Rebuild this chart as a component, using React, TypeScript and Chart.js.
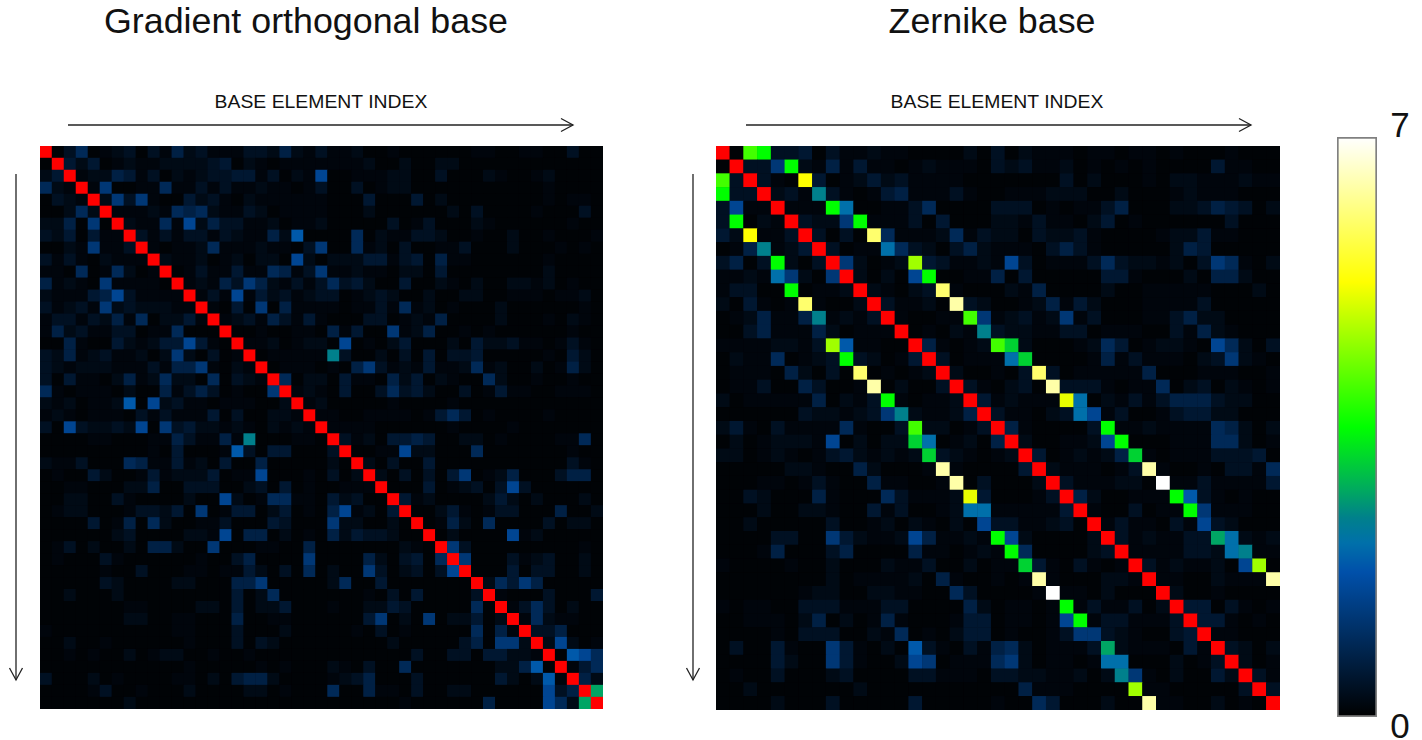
import React, { useEffect, useRef } from "react";
import { Chart, registerables } from "chart.js";

Chart.register(...registerables);

// Each character is one matrix cell; levelChars / levelValues turn it into a correlation value.
// R marks a value above the colour scale (the diagonal), drawn red.
const levelChars = "0123456789abcdefghijklR";
const levelValues = [0.06, 0.12, 0.22, 0.35, 0.5, 0.7, 0.9, 1.2, 1.5, 1.85, 2.1, 2.4, 2.7, 3.1, 3.5, 3.95, 4.6, 5.1, 5.25, 6.0, 6.4, 7, 9];

const gradientRows = [
  "R036012303 1523111332 5213112001 0000001100 1100300",
  "0R42401211 2222340210 1111111200 2002200000 0000000",
  "24R1225413 0212334413 0218001112 2003000210 0120000",
  "621R170011 6113131121 1013003012 2000000000 0010000",
  "0321R27371 0042310211 1111000400 0402000000 0010110",
  "00262R1112 1656211320 1111000200 0000203000 0100030",
  "225070R211 6182533112 0112000003 0130002100 0000100",
  "3240411R31 3133132115 2900006021 1332001002 0010001",
  "00217113R1 0112611121 1037006120 3001130002 0001010",
  "313102111R 2112012022 0820222441 3405110000 0010000",
  "1106016201 R013114116 5137112110 2204000000 0020000",
  "5121071111 0R12153752 1313634200 4002102002 2120100",
  "2111458311 11R1318142 3123301232 0020022001 1101120",
  "3123172322 211R104070 5111101131 6120100020 0000010",
  "1331325160 2241R12315 3141000330 1215000020 0010210",
  "1523113301 16000R0010 0110514007 1250010100 0000100",
  "0051004212 448410R112 0122080102 4000204223 1101310",
  "3251231120 2720301R01 1111b30020 3040334000 0010420",
  "3212221113 15571021R0 1110105731 2141126120 0201520",
  "3041102512 622060321R 6022041105 2402100620 0100100",
  "6101110200 5135301007 R121040036 3420030141 1001110",
  "2120112908 2311011100 2R12000001 0000100000 0000000",
  "1210111031 3111403002 21R1100111 1014640100 0010000",
  "3083223280 7342212102 121R111100 0000100001 0000000",
  "0000110001 1531151b00 0110R31204 4540022010 0001160",
  "0000000001 0400019304 40003R0011 8220006000 0000100",
  "2113000651 1412040050 000020R203 0040000000 0000310",
  "0100420014 1222401180 0010302R20 3030470125 0003550",
  "0011000225 0033300230 40100111R0 0040123038 3000000",
  "0022003100 0020082016 611042300R 4120000242 0200020",
  "0122000133 2407014402 4010581204 R002410133 0005002",
  "0000401506 2001130004 3000722002 0R01520600 0030220",
  "0000002300 0022180550 2010524332 00R0200008 1200000",
  "0130200205 5200700011 0050000000 210R730000 0000010",
  "0100031000 0001003500 0070000520 3406R70003 1230020",
  "0000010030 0011011420 3060200730 23038R0004 0330020",
  "0000032000 0220005570 0000260040 000000R264 7500000",
  "0020002000 0000004026 0000000103 0400003R10 0030004",
  "0000000110 0002204022 4000100224 30000060R1 3630200",
  "0000000220 0110005001 1000000470 207022402R 1621100",
  "1000000000 0110003000 2000001030 1000006051 R335000",
  "0020010000 0010003032 0000000002 0000035077 2R28201",
  "0010100201 2200100100 0000000000 0300330442 21R0986",
  "0000000000 0010000010 1000210300 6000000022 590R146",
  "3000201000 0110204552 0000123500 0300000042 0291R52",
  "0000130010 0020000220 1000600511 0300220000 00835Rc",
  "0000000200 0000000000 0000000000 1000000500 00862cR",
];

const zernikeRows = [
  "R0fe334031 1211000020 3021110110 1101000100 0",
  "0R337e2151 4110121110 3231120101 0100004110 0",
  "f3R310i401 2423111100 0000030200 0102211121 1",
  "e33R231b31 0145111310 0111222002 0001211100 0",
  "3811R111ea 0011360000 3330101135 0002235430 2",
  "3e021R3227 e111304000 2213110240 1000000300 0",
  "42i113R303 0j61112613 2203223100 0012241100 0",
  "015b124R30 11a6320352 1110353100 0002540000 0",
  "3503e203R7 2012g43112 1830111363 2212037610 2",
  "1121a7207R 20208e0011 5040000044 1000205520 0",
  "13300e0112 R21023j100 0215000020 0111110002 0",
  "204101j100 2R31120k32 0012514200 0111130000 0",
  "0125115b12 13R10011f7 1231271300 0113522000 0",
  "0035111520 111R01021b 3221133011 1003152100 0",
  "11112213g9 1100R51012 fd20001264 0122108620 3",
  "021160123e 32014R3011 1ad0000151 3111023721 0",
  "0111052030 j01012R200 103j301111 1500011100 1",
  "0113005300 1k02003R31 0230k33310 1160230210 1",
  "2011111502 13e10112R4 12111ha021 3135553220 0",
  "0000003221 237b21125R 311023a813 0013442200 0",
  "2410311116 1003f22013 R5100003e1 1211116520 2",
  "0201222180 2022da0120 5R2001128e 0001116620 1",
  "2201210134 21212d3210 12R4012125 d101113334 0",
  "0000022100 520001k100 004R211101 3k10010331 6",
  "0001101310 0511001k03 0002R31112 20l1131111 4",
  "0032000510 00631112h4 00013R5200 111e931010 0",
  "0002002210 04130012aa 111114R100 3011e71110 0",
  "0020000030 0120210208 3311230R13 1103183200 0",
  "0000330074 2112851121 e8200002R3 121133ca21 2",
  "0001500035 0000511012 1e6000023R 1111332ab1 1",
  "1000010020 0021130020 11d4103101 R31211208g 0",
  "0000000020 1111205100 101k100022 1R11002111 k",
  "0000001220 0221100630 0001l11020 00R2001000 0",
  "1011003331 1133000052 01101e1311 302R440310 1",
  "0011102502 0151000144 011018e133 1113R44101 0",
  "0000103330 0216010244 0100137732 10034R1100 0",
  "0300410074 1020931031 56201113c2 111041R320 2",
  "0000420074 1002870111 67201101aa 0002013R20 1",
  "0100300023 0000331110 332211202b 71020042R3 1",
  "0020000000 2000000000 0051110000 g11000003R 3",
  "0000200030 0000400000 1006400020 0k11002010 R",
];

const rampValues = [0, 1.75, 2.1, 2.4, 2.7, 3.1, 3.5, 5.25, 7];
const rampColors: number[][] = [
  [0, 0, 0],
  [0, 80, 170],
  [0, 112, 170],
  [0, 128, 140],
  [0, 165, 100],
  [0, 210, 50],
  [0, 255, 0],
  [255, 255, 0],
  [255, 255, 255],
];
const scaleMin = 0;
const scaleMax = 7;
const overColor = "rgb(255,0,0)";
const titles = ["Gradient orthogonal base", "Zernike base"];
const axisLabel = "BASE ELEMENT INDEX";
const scaleLabels = ["7", "0"];

function colorFor(v: number): string {
  if (v > scaleMax) return overColor;
  for (let i = 1; i < rampValues.length; i++) {
    if (v <= rampValues[i]) {
      const t = (v - rampValues[i - 1]) / (rampValues[i] - rampValues[i - 1]);
      const a = rampColors[i - 1];
      const b = rampColors[i];
      return `rgb(${a.map((c, k) => Math.round(c + (b[k] - c) * t)).join(",")})`;
    }
  }
  return "rgb(255,255,255)";
}

function decode(rows: string[]) {
  const pts: { x: number; y: number; v: number }[] = [];
  rows.forEach((row, y) => {
    row.replace(/ /g, "").split("").forEach((ch, x) => {
      pts.push({ x, y, v: levelValues[levelChars.indexOf(ch)] });
    });
  });
  return pts;
}

function Heatmap({ rows, left, top, size }: { rows: string[]; left: number; top: number; size: number }) {
  const ref = useRef<HTMLCanvasElement>(null);
  useEffect(() => {
    const n = rows.length;
    const radius = (size / n + 0.4) / Math.SQRT2;
    const chart = new Chart(ref.current!, {
      type: "scatter",
      data: {
        datasets: [
          {
            data: decode(rows),
            pointStyle: "rect",
            pointRadius: radius,
            pointHoverRadius: radius,
            pointBorderWidth: 0,
            pointBackgroundColor: (c: any) => colorFor(c.raw ? c.raw.v : 0),
          } as any,
        ],
      },
      options: {
        responsive: false,
        animation: false,
        events: [],
        layout: { padding: 0, autoPadding: false },
        plugins: { legend: { display: false }, tooltip: { enabled: false }, title: { display: false } },
        scales: {
          x: { type: "linear", display: false, min: -0.5, max: n - 0.5 },
          y: { type: "linear", display: false, min: -0.5, max: n - 0.5, reverse: true },
        },
      },
    });
    return () => chart.destroy();
  }, [rows, size]);
  return (
    <canvas
      ref={ref}
      width={size}
      height={size}
      style={{ position: "absolute", left, top, width: size, height: size, background: "#000", filter: "blur(0.6px)" }}
    />
  );
}

function ColorBar({ left, top, width, height }: { left: number; top: number; width: number; height: number }) {
  const ref = useRef<HTMLCanvasElement>(null);
  useEffect(() => {
    const chart = new Chart(ref.current!, {
      type: "bar",
      data: {
        labels: ["scale"],
        datasets: [
          {
            data: [[scaleMin, scaleMax]],
            barPercentage: 1,
            categoryPercentage: 1,
            borderColor: "#808080",
            borderWidth: 2,
            borderSkipped: false,
            backgroundColor: (c: any) => {
              const g = c.chart.ctx.createLinearGradient(0, height, 0, 0);
              rampValues.forEach((v, i) => {
                g.addColorStop((v - scaleMin) / (scaleMax - scaleMin), `rgb(${rampColors[i].join(",")})`);
              });
              return g;
            },
          } as any,
        ],
      },
      options: {
        responsive: false,
        animation: false,
        events: [],
        layout: { padding: 0 },
        plugins: { legend: { display: false }, tooltip: { enabled: false } },
        scales: {
          x: { display: false },
          y: { display: false, min: scaleMin, max: scaleMax },
        },
      },
    });
    return () => chart.destroy();
  }, [height]);
  return <canvas ref={ref} width={width} height={height} style={{ position: "absolute", left, top, width, height }} />;
}

const textBase: React.CSSProperties = {
  position: "absolute",
  fontFamily: '"Liberation Sans", Arial, sans-serif',
  color: "#111",
  whiteSpace: "nowrap",
  lineHeight: 1,
};

function Label({ x, y, size, text, stretch }: { x: number; y: number; size: number; text: string; stretch?: number }) {
  return (
    <div style={{ ...textBase, left: x, top: y, fontSize: size, transform: `translate(-50%, -50%) scaleX(${stretch ?? 1})` }}>{text}</div>
  );
}

function Arrows() {
  const groups = [
    { hx1: 68, hx2: 573, vx: 16 },
    { hx1: 746, hx2: 1251, vx: 693 },
  ];
  return (
    <svg width={1422} height={740} style={{ position: "absolute", left: 0, top: 0 }}>
      {groups.map((g, i) => (
        <g key={i} fill="none" stroke="#222" strokeWidth={1.3}>
          <line x1={g.hx1} y1={125} x2={g.hx2} y2={125} />
          <polyline points={`${g.hx2 - 12},118.5 ${g.hx2},125 ${g.hx2 - 12},131.5`} />
          <line x1={g.vx} y1={174} x2={g.vx} y2={680} />
          <polyline points={`${g.vx - 6.5},668 ${g.vx},680 ${g.vx + 6.5},668`} />
        </g>
      ))}
    </svg>
  );
}

export default function App() {
  return (
    <div style={{ position: "absolute", left: 0, top: 0, width: 1422, height: 740, overflow: "hidden", background: "#fff" }}>
      <Label x={306} y={22} size={35.8} text={titles[0]} />
      <Label x={992} y={22} size={35.8} text={titles[1]} />
      <Label x={320.5} y={101} size={19} stretch={1.02} text={axisLabel} />
      <Label x={996.5} y={101} size={19} stretch={1.02} text={axisLabel} />
      <Arrows />
      <Heatmap rows={gradientRows} left={40} top={146} size={563} />
      <Heatmap rows={zernikeRows} left={716} top={146} size={564} />
      <ColorBar left={1337} top={137} width={40} height={580} />
      <Label x={1400} y={124} size={35} text={scaleLabels[0]} />
      <Label x={1400} y={725} size={35} text={scaleLabels[1]} />
    </div>
  );
}
